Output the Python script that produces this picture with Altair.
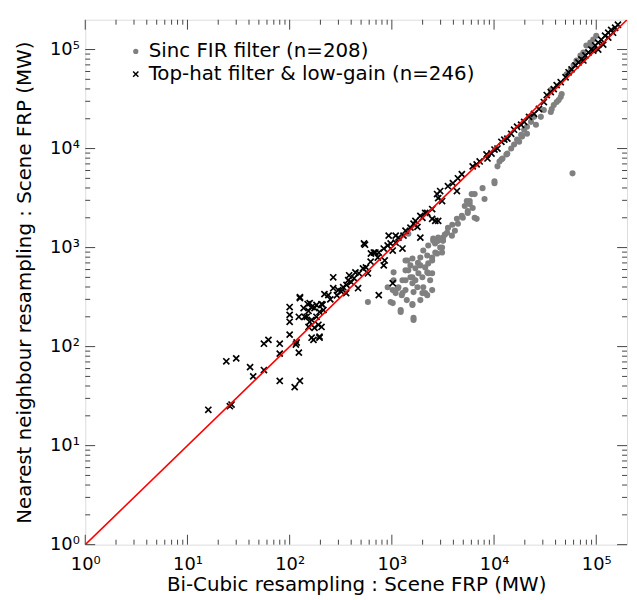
import altair as alt
import pandas as pd

# ---- data ----
series_names = ["Sinc FIR filter (n=208)", "Top-hat filter & low-gain (n=246)"]

sinc_x = [58600, 35900, 38400, 41000, 44900, 35900, 80000, 87500, 93500, 100000,
          74800, 70000, 64100, 60000, 56100, 51300, 24600, 23000, 21000, 19700,
          18400, 16800, 15700, 14700, 13500, 12100, 11300, 10800, 10100, 8070,
          6760, 5780, 5530, 5410, 6040, 4950, 4430, 4140, 3870, 3470,
          3170, 2840, 2540, 2970, 3100, 2770, 2480, 2270, 2120, 2270,
          1820, 1590, 1360, 1420, 1270, 1160, 1090, 1360, 1630, 1990,
          2220, 1450, 1040, 583, 1020, 1220, 1590, 1630, 1270, 1140,
          1360, 1520, 1450, 1700, 1900, 1990, 2220, 2480, 2030, 1780,
          1590, 2120, 2480, 1360, 1590, 1900, 2220, 2480, 2660, 3100,
          2840, 3170, 2540, 2270, 2030, 1040, 910, 1020, 973, 1220,
          1590, 1630, 10100, 7720, 6460, 5780, 5170, 6180, 5530, 4840,
          6460, 4330, 3540, 11800, 13200, 17600, 25700, 28700, 30700, 36700,
          42900, 45900, 21000, 18800, 87500, 93500, 74800,
          1520, 1700, 1900, 1400, 2370, 1250, 1800, 2650, 3300, 3900]
sinc_y = [5620, 23400, 27500, 29500, 33100, 38900, 110000, 117500, 126000, 138000,
          93300, 87100, 77600, 69200, 61700, 56200, 20900, 18600, 16600, 15500,
          13800, 12300, 11000, 10000, 8910, 7940, 7410, 6610, 4470, 3090,
          1950, 2750, 2340, 2950, 3470, 2000, 1740, 1480, 1320, 1410,
          1170, 1260, 1230, 1000, 891, 871, 794, 692, 631, 550,
          550, 501, 589, 741, 468, 398, 347, 372, 355, 347,
          331, 1380, 562, 282, 275, 234, 263, 195, 347, 389,
          468, 501, 589, 617, 661, 501, 562, 550, 398, 398,
          437, 347, 372, 741, 776, 794, 832, 741, 891, 1000,
          1170, 1260, 1170, 1050, 933, 468, 398, 372, 282, 224,
          269, 186, 4680, 3980, 3470, 2950, 2630, 2510, 2240, 2090,
          2000, 1950, 1580, 7760, 8710, 11700, 17400, 20900, 24500, 25100,
          30900, 35500, 14100, 13200, 112000, 105000, 89100,
          661, 468, 295, 295, 468, 330, 700, 1100, 1350, 1700]

tophat_x = [16, 24, 30, 26, 27, 41, 44, 56, 56, 62,
            80, 80, 80, 100, 100, 100, 100, 112, 126, 123,
            123, 117, 126, 150, 164, 183, 205, 219, 157, 175,
            205, 164, 196, 140, 153, 115, 126, 137, 157, 175,
            196, 210, 183, 164, 147, 191, 239, 267, 267, 299,
            334, 357, 374, 400, 427, 467, 382, 477, 522, 558,
            583, 667, 729, 745, 833, 851, 910, 973, 931, 1090,
            1020, 1270, 1160, 1300, 1360, 1520, 1630, 1780, 1990, 2220,
            2480, 2660, 2840, 1900, 1020, 745, 534, 2770, 2970, 546,
            624, 690, 833, 1090, 1700, 1900, 2120, 2480, 2840, 3100,
            3540, 3960, 4430, 4840, 4330, 6180, 6760, 7230, 8440, 8630,
            9440, 10100, 10800, 11800, 12600, 13500, 14700, 15700, 16800, 18400,
            27500, 32800, 35900, 38400, 41000, 44900, 50100, 53600, 57300, 62700,
            67000, 71600, 78300, 83800, 89500, 97700, 104500, 112000, 122000, 131000,
            140000, 153000, 131000, 19700, 22000, 24600, 30700, 74800, 93500, 117000,
            146000, 163000, 104500,
            214, 153, 196, 171, 250, 290, 320, 360, 440, 620]
tophat_y = [23, 71, 76, 25, 26, 62, 50, 58, 107, 117,
            45, 85, 107, 132, 178, 209, 251, 39, 45, 87,
            200, 110, 309, 269, 251, 263, 269, 339, 178, 155,
            158, 123, 123, 200, 229, 105, 316, 245, 275, 245,
            224, 265, 200, 186, 200, 166, 331, 389, 501, 372,
            398, 347, 468, 447, 490, 389, 525, 550, 617, 631,
            550, 891, 794, 891, 661, 741, 1050, 1100, 1320, 1120,
            933, 977, 1260, 1320, 1480, 1590, 1740, 1620, 2000, 2240,
            2450, 1860, 1860, 1260, 437, 331, 1100, 3470, 3720, 1070,
            871, 891, 977, 1320, 1860, 2090, 2240, 1950, 3160, 2950,
            4170, 4470, 5010, 5500, 3720, 6610, 6920, 7410, 8710, 7940,
            8910, 9770, 10000, 11700, 12300, 12600, 14100, 15500, 16600, 17400,
            25100, 34700, 37200, 39800, 43700, 46800, 52500, 58900, 63100, 69200,
            74100, 79400, 87100, 93300, 100000, 110000, 117500, 126000, 138000, 148000,
            158000, 166000, 132000, 18600, 20900, 22400, 29500, 77600, 97700, 112000,
            148000, 178000, 100000,
            234, 158, 126, 117, 300, 330, 360, 420, 560, 720]

line_vals = [1, 200000]
axis_max = 200000
major_ticks = [1, 10, 100, 1000, 10000, 100000]
minor_ticks = [m * 10 ** k for k in range(6) for m in range(2, 10) if m * 10 ** k < axis_max]
x_title = "Bi-Cubic resampling : Scene FRP (MW)"
y_title = "Nearest neighbour resampling : Scene FRP (MW)"

W, H = 547, 530
FONT = "DejaVu Sans"
FRAME = "#444444"

pts = pd.DataFrame({
    "x": sinc_x + tophat_x,
    "y": sinc_y + tophat_y,
    "series": [series_names[0]] * len(sinc_x) + [series_names[1]] * len(tophat_x),
})
line_df = pd.DataFrame({"x": line_vals, "y": line_vals})
major_df = pd.DataFrame({"x": major_ticks, "y": major_ticks})
minor_df = pd.DataFrame({"x": minor_ticks, "y": minor_ticks})

xs = alt.Scale(type="log", domain=[1, axis_max], nice=False)
ys = alt.Scale(type="log", domain=[1, axis_max], nice=False)

label_expr = "'10' + ['⁰','¹','²','³','⁴','⁵'][round(log(datum.value) / LN10)]"

x_axis = alt.Axis(values=major_ticks, labelExpr=label_expr, ticks=False, tickSize=0,
                  domain=False, grid=False, labelFont=FONT, labelFontSize=18,
                  labelColor="black", labelBaseline="alphabetic", labelPadding=25,
                  title=x_title, titleFont=FONT, titleFontSize=20, titleFontWeight="normal",
                  titleColor="black", titleBaseline="alphabetic", titleY=46,
                  labelFlush=False, labelOverlap=False)
y_axis = alt.Axis(values=major_ticks, labelExpr=label_expr, ticks=False, tickSize=0,
                  domain=False, grid=False, labelFont=FONT, labelFontSize=18,
                  labelColor="black", labelPadding=6,
                  title=y_title, titleFont=FONT, titleFontSize=20, titleFontWeight="normal",
                  titleColor="black", titleBaseline="alphabetic", titleX=-55, titleY=H / 2,
                  labelFlush=False, labelOverlap=False)

legend = alt.Legend(title=None, orient="none", legendX=41, legendY=22,
                    labelFont=FONT, labelFontSize=20, labelColor="black", labelLimit=0,
                    symbolSize=28, symbolStrokeWidth=1.5, labelOffset=3, rowPadding=3,
                    padding=0)

shape_scale = alt.Scale(domain=series_names, range=["circle", "M-1,-1L1,1M-1,1L1,-1"])
fill_scale = alt.Scale(domain=series_names, range=["#808080", "transparent"])
stroke_scale = alt.Scale(domain=series_names, range=["transparent", "#000000"])

points = alt.Chart(pts).mark_point(size=38, strokeWidth=1.7, opacity=1).encode(
    x=alt.X("x:Q", scale=xs, axis=x_axis),
    y=alt.Y("y:Q", scale=ys, axis=y_axis),
    shape=alt.Shape("series:N", scale=shape_scale, legend=legend, sort=series_names),
    fill=alt.Fill("series:N", scale=fill_scale, legend=legend, sort=series_names),
    stroke=alt.Stroke("series:N", scale=stroke_scale, legend=legend, sort=series_names),
)

line = alt.Chart(line_df).mark_line(color="#ff0000", strokeWidth=1.6, clip=True).encode(
    x=alt.X("x:Q", scale=xs, axis=x_axis),
    y=alt.Y("y:Q", scale=ys, axis=y_axis),
)


def xticks(df, y0, y1):
    return alt.Chart(df).mark_rule(color=FRAME, strokeWidth=1).encode(
        x=alt.X("x:Q", scale=xs, axis=x_axis), y=alt.value(y0), y2=alt.value(y1))


def yticks(df, x0, x1):
    return alt.Chart(df).mark_rule(color=FRAME, strokeWidth=1).encode(
        y=alt.Y("y:Q", scale=ys, axis=y_axis), x=alt.value(x0), x2=alt.value(x1))


ticks = [
    xticks(major_df, H, H - 10), xticks(minor_df, H, H - 5),
    xticks(major_df, 0, 10), xticks(minor_df, 0, 5),
    yticks(major_df, 0, 10), yticks(minor_df, 0, 5),
    yticks(major_df, W, W - 10), yticks(minor_df, W, W - 5),
]

chart = alt.layer(points, line, *ticks).properties(
    width=W, height=H,
    padding={"left": 78, "top": 9, "right": 2, "bottom": 48},
    autosize=alt.AutoSizeParams(type="none"),
).configure_view(stroke=FRAME, strokeWidth=1.2).configure(background="white")

chart.save("out.html", embed_options={"renderer": "svg", "actions": False})
